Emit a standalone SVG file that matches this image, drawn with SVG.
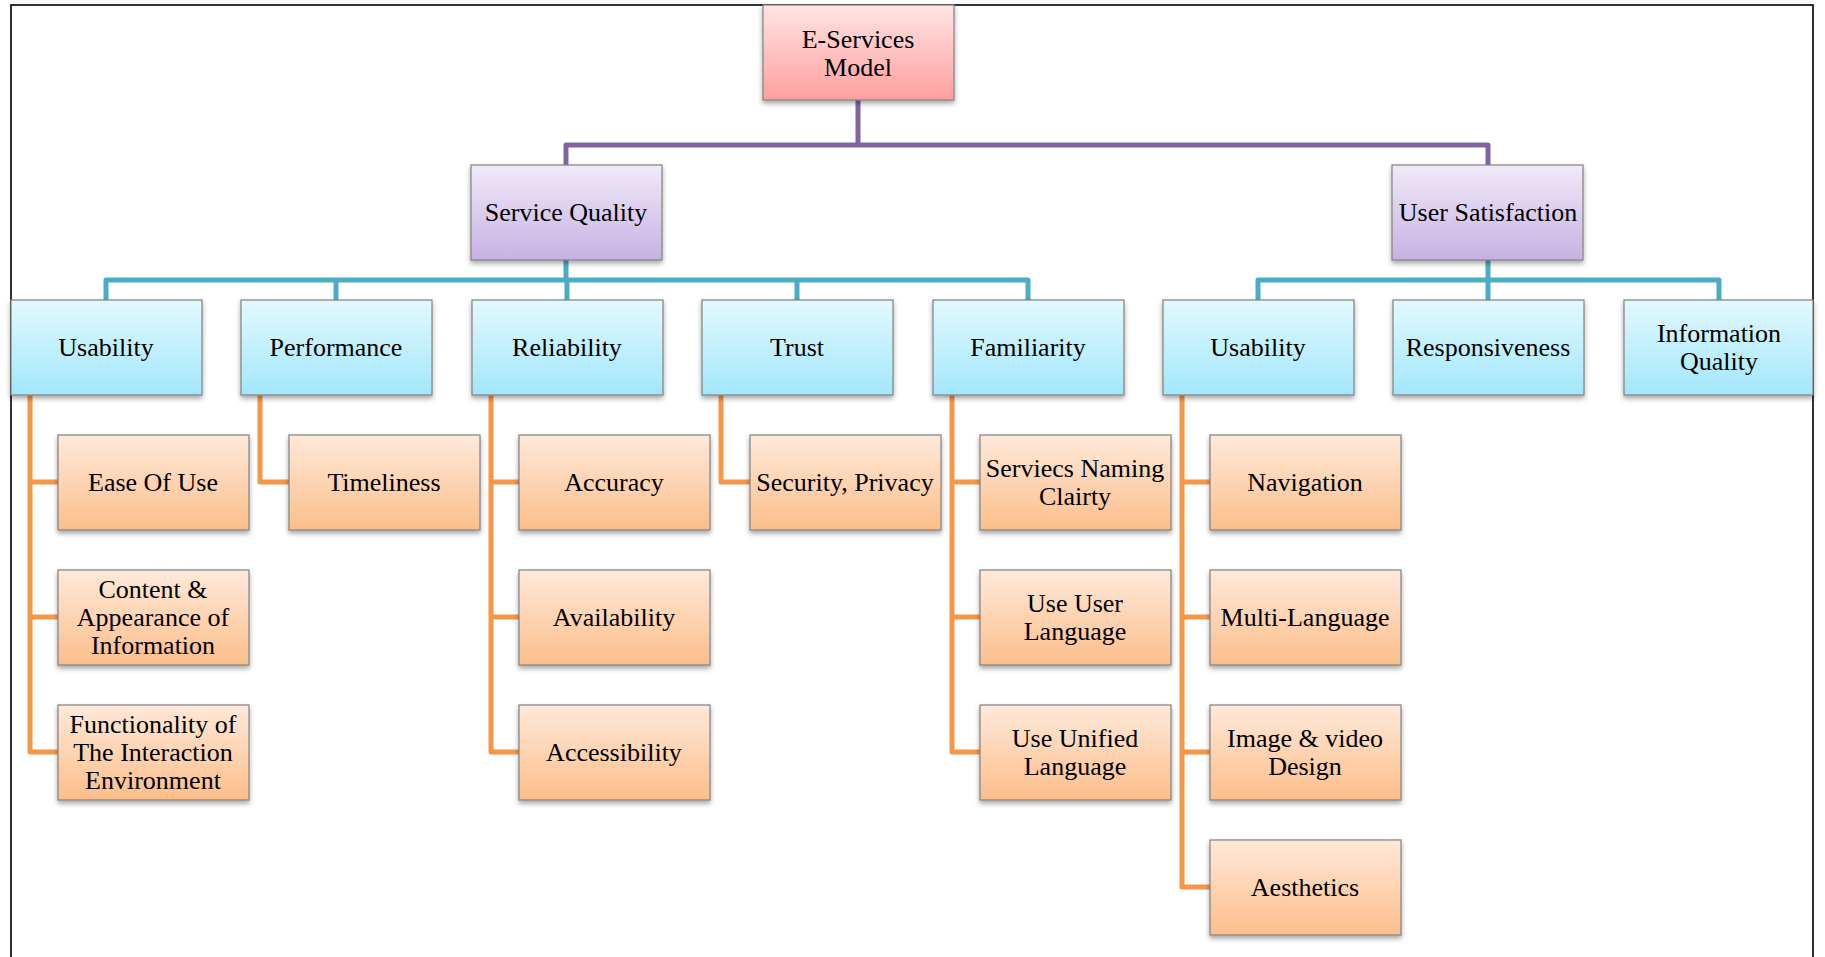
<svg xmlns="http://www.w3.org/2000/svg" width="1825" height="957" viewBox="0 0 1825 957">
<defs>
<linearGradient id="gPink" x1="0" y1="0" x2="0" y2="1"><stop offset="0" stop-color="#ffe4e4"/><stop offset="1" stop-color="#ff9f9f"/></linearGradient>
<linearGradient id="gPurple" x1="0" y1="0" x2="0" y2="1"><stop offset="0" stop-color="#f0eaf8"/><stop offset="1" stop-color="#c7b1e3"/></linearGradient>
<linearGradient id="gCyan" x1="0" y1="0" x2="0" y2="1"><stop offset="0" stop-color="#e2f9fe"/><stop offset="1" stop-color="#a2e7fb"/></linearGradient>
<linearGradient id="gOrange" x1="0" y1="0" x2="0" y2="1"><stop offset="0" stop-color="#ffe9da"/><stop offset="1" stop-color="#fcbe8a"/></linearGradient>
<filter id="sh" x="-10%" y="-10%" width="120%" height="130%"><feDropShadow dx="0" dy="3" stdDeviation="2.5" flood-color="#000" flood-opacity="0.35"/></filter>
</defs>
<style>
.box{stroke:#808080;stroke-width:1.2;filter:url(#sh)}
.pink{fill:url(#gPink)}
.purple{fill:url(#gPurple)}
.cyan{fill:url(#gCyan)}
.orange{fill:url(#gOrange)}
text{font-family:"Liberation Serif","Times New Roman",serif;font-size:26px;fill:#000;text-anchor:middle}
.lp{stroke:#8064a2;stroke-width:5;fill:none;stroke-linejoin:round}
.lt{stroke:#4bacc6;stroke-width:5;fill:none;stroke-linejoin:round}
.lo{stroke:#f79646;stroke-width:5;fill:none;stroke-linejoin:round}
</style>
<rect x="11" y="5" width="1802" height="960" fill="#fff" stroke="#000" stroke-width="1.6"/>
<g id="connectors">
<path class="lp" d="M858 100 V145 M566 165 V145 H1488 V165"/>
<path class="lt" d="M566 260 V280 M106 300 V280 H1028 V300 M336 280 V300 M567 280 V300 M797 280 V300"/>
<path class="lt" d="M1488 260 V280 M1258 300 V280 H1719 V300 M1488 280 V300"/>
<path class="lo" d="M30 395 V752 H58 M30 482 H58 M30 617 H58"/>
<path class="lo" d="M260 395 V482 H289"/>
<path class="lo" d="M491 395 V752 H519 M491 482 H519 M491 617 H519"/>
<path class="lo" d="M721 395 V482 H750"/>
<path class="lo" d="M952 395 V752 H980 M952 482 H980 M952 617 H980"/>
<path class="lo" d="M1182 395 V887 H1210 M1182 482 H1210 M1182 617 H1210 M1182 752 H1210"/>
</g>
<g id="n-root"><rect class="box pink" x="763" y="5" width="191" height="95"/><text x="858" y="48">E-Services</text><text x="858" y="76">Model</text></g>
<g id="n-sq"><rect class="box purple" x="471" y="165" width="191" height="95"/><text x="566" y="221">Service Quality</text></g>
<g id="n-us"><rect class="box purple" x="1392" y="165" width="191" height="95"/><text x="1488" y="221">User Satisfaction</text></g>
<g id="n-usab1"><rect class="box cyan" x="11" y="300" width="191" height="95"/><text x="106" y="356">Usability</text></g>
<g id="n-perf"><rect class="box cyan" x="241" y="300" width="191" height="95"/><text x="336" y="356">Performance</text></g>
<g id="n-rel"><rect class="box cyan" x="472" y="300" width="191" height="95"/><text x="567" y="356">Reliability</text></g>
<g id="n-trust"><rect class="box cyan" x="702" y="300" width="191" height="95"/><text x="797" y="356">Trust</text></g>
<g id="n-fam"><rect class="box cyan" x="933" y="300" width="191" height="95"/><text x="1028" y="356">Familiarity</text></g>
<g id="n-usab2"><rect class="box cyan" x="1163" y="300" width="191" height="95"/><text x="1258" y="356">Usability</text></g>
<g id="n-resp"><rect class="box cyan" x="1393" y="300" width="191" height="95"/><text x="1488" y="356">Responsiveness</text></g>
<g id="n-iq"><rect class="box cyan" x="1624" y="300" width="189" height="95"/><text x="1719" y="342">Information</text><text x="1719" y="370">Quality</text></g>
<g id="n-ease"><rect class="box orange" x="58" y="435" width="191" height="95"/><text x="153" y="491">Ease Of Use</text></g>
<g id="n-content"><rect class="box orange" x="58" y="570" width="191" height="95"/><text x="153" y="598">Content &amp;</text><text x="153" y="626">Appearance of</text><text x="153" y="654">Information</text></g>
<g id="n-func"><rect class="box orange" x="58" y="705" width="191" height="95"/><text x="153" y="733">Functionality of</text><text x="153" y="761">The Interaction</text><text x="153" y="789">Environment</text></g>
<g id="n-time"><rect class="box orange" x="289" y="435" width="191" height="95"/><text x="384" y="491">Timeliness</text></g>
<g id="n-acc"><rect class="box orange" x="519" y="435" width="191" height="95"/><text x="614" y="491">Accuracy</text></g>
<g id="n-avail"><rect class="box orange" x="519" y="570" width="191" height="95"/><text x="614" y="626">Availability</text></g>
<g id="n-access"><rect class="box orange" x="519" y="705" width="191" height="95"/><text x="614" y="761">Accessibility</text></g>
<g id="n-sec"><rect class="box orange" x="750" y="435" width="191" height="95"/><text x="845" y="491">Security, Privacy</text></g>
<g id="n-naming"><rect class="box orange" x="980" y="435" width="191" height="95"/><text x="1075" y="477">Serviecs Naming</text><text x="1075" y="505">Clairty</text></g>
<g id="n-uul"><rect class="box orange" x="980" y="570" width="191" height="95"/><text x="1075" y="612">Use User</text><text x="1075" y="640">Language</text></g>
<g id="n-uunl"><rect class="box orange" x="980" y="705" width="191" height="95"/><text x="1075" y="747">Use Unified</text><text x="1075" y="775">Language</text></g>
<g id="n-nav"><rect class="box orange" x="1210" y="435" width="191" height="95"/><text x="1305" y="491">Navigation</text></g>
<g id="n-ml"><rect class="box orange" x="1210" y="570" width="191" height="95"/><text x="1305" y="626">Multi-Language</text></g>
<g id="n-img"><rect class="box orange" x="1210" y="705" width="191" height="95"/><text x="1305" y="747">Image &amp; video</text><text x="1305" y="775">Design</text></g>
<g id="n-aes"><rect class="box orange" x="1210" y="840" width="191" height="95"/><text x="1305" y="896">Aesthetics</text></g>
</svg>
